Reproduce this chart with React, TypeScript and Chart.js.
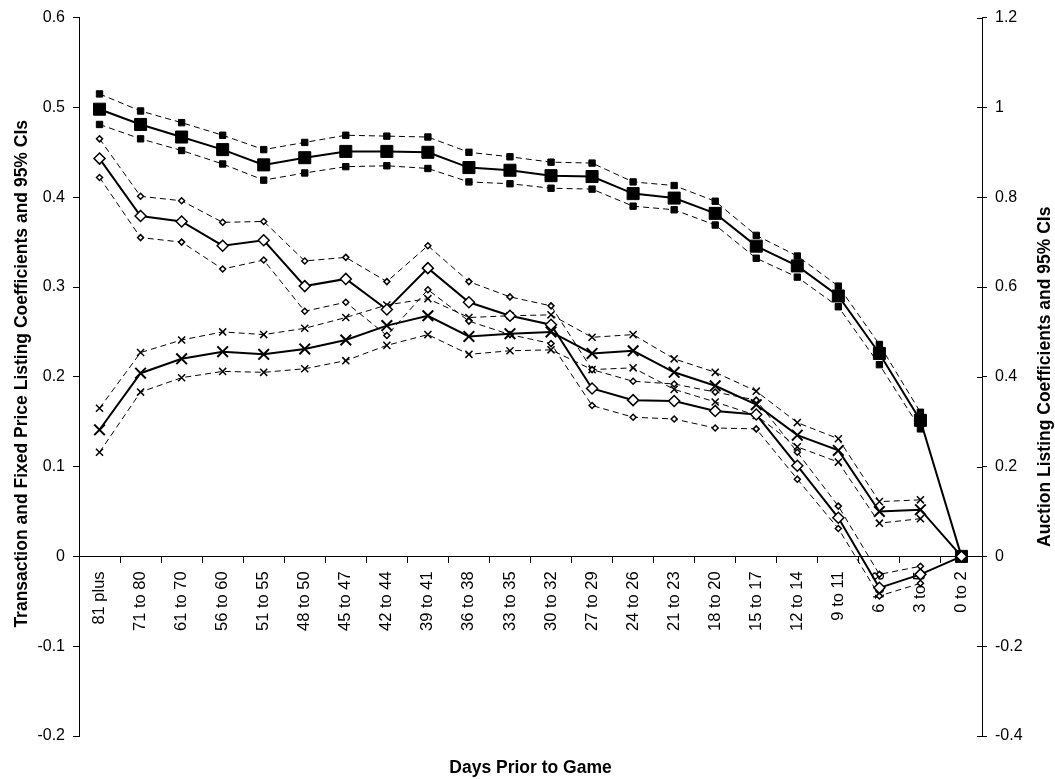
import React, { useEffect, useRef } from "react";
import { Chart, registerables } from "chart.js";

Chart.register(...registerables);

// Day buckets before the game, earliest first
const categories: string[] = [
  "81 plus", "71 to 80", "61 to 70", "56 to 60", "51 to 55", "48 to 50",
  "45 to 47", "42 to 44", "39 to 41", "36 to 38", "33 to 35", "30 to 32",
  "27 to 29", "24 to 26", "21 to 23", "18 to 20", "15 to 17", "12 to 14",
  "9 to 11", "6 to 8", "3 to 5", "0 to 2",
];

// Auction listing coefficients (right axis) with 95% CI bounds
const auctionCoef: (number | null)[] = [
  0.996, 0.962, 0.934, 0.906, 0.872, 0.888, 0.902, 0.902, 0.900, 0.866, 0.860,
  0.848, 0.846, 0.808, 0.798, 0.764, 0.691, 0.647, 0.580, 0.452, 0.303, 0,
];
const auctionUpper: (number | null)[] = [
  1.030, 0.992, 0.966, 0.938, 0.906, 0.922, 0.938, 0.936, 0.934, 0.900, 0.890,
  0.878, 0.876, 0.834, 0.826, 0.791, 0.715, 0.669, 0.602, 0.472, 0.321, null,
];
const auctionLower: (number | null)[] = [
  0.962, 0.930, 0.904, 0.874, 0.838, 0.854, 0.868, 0.870, 0.864, 0.834, 0.830,
  0.820, 0.818, 0.780, 0.772, 0.738, 0.664, 0.622, 0.556, 0.427, 0.284, null,
];

// Fixed price listing coefficients (left axis) with 95% CI bounds
const fixedCoef: (number | null)[] = [
  0.443, 0.379, 0.373, 0.346, 0.352, 0.301, 0.309, 0.275, 0.321, 0.283, 0.268,
  0.258, 0.187, 0.174, 0.173, 0.162, 0.158, 0.101, 0.043, -0.035, -0.020, 0,
];
const fixedUpper: (number | null)[] = [
  0.465, 0.401, 0.396, 0.372, 0.373, 0.329, 0.333, 0.306, 0.346, 0.306, 0.289,
  0.279, 0.208, 0.195, 0.192, 0.183, 0.174, 0.116, 0.056, -0.020, -0.011, null,
];
const fixedLower: (number | null)[] = [
  0.422, 0.355, 0.350, 0.320, 0.330, 0.273, 0.283, 0.246, 0.297, 0.262, 0.247,
  0.237, 0.168, 0.155, 0.153, 0.143, 0.142, 0.086, 0.031, -0.044, -0.030, null,
];

// Transaction coefficients (left axis) with 95% CI bounds
const transCoef: (number | null)[] = [
  0.141, 0.204, 0.220, 0.228, 0.225, 0.231, 0.241, 0.257, 0.268, 0.245, 0.248,
  0.250, 0.226, 0.229, 0.205, 0.190, 0.169, 0.135, 0.118, 0.050, 0.052, 0,
];
const transUpper: (number | null)[] = [
  0.165, 0.227, 0.241, 0.250, 0.247, 0.254, 0.266, 0.280, 0.287, 0.266, 0.268,
  0.269, 0.244, 0.247, 0.220, 0.205, 0.184, 0.149, 0.131, 0.061, 0.063, null,
];
const transLower: (number | null)[] = [
  0.116, 0.183, 0.199, 0.206, 0.205, 0.209, 0.218, 0.235, 0.247, 0.225, 0.229,
  0.230, 0.208, 0.210, 0.186, 0.172, 0.157, 0.122, 0.105, 0.037, 0.042, null,
];

const xTitle = "Days Prior to Game";
const leftTitle = "Transaction and Fixed Price Listing Coefficients and 95% CIs";
const rightTitle = "Auction Listing Coefficients and 95% CIs";

const FONT = '"Liberation Sans", Arial, Helvetica, sans-serif';

const fmt = (v: number | string) => String(Math.round(Number(v) * 10) / 10);

// Axis titles plus the inner half of the right-axis tick marks
const frameText = {
  id: "frameText",
  afterDraw(chart: any) {
    const { ctx, chartArea } = chart;
    const yR = chart.scales.y1;
    ctx.save();
    ctx.strokeStyle = "#000";
    ctx.lineWidth = 1;
    for (const t of yR.ticks) {
      const py = Math.round(yR.getPixelForValue(t.value)) + 0.5;
      ctx.beginPath();
      ctx.moveTo(chartArea.right - 5, py);
      ctx.lineTo(chartArea.right, py);
      ctx.stroke();
    }
    ctx.fillStyle = "#000";
    ctx.font = `bold 17.5px ${FONT}`;
    ctx.textAlign = "center";
    ctx.textBaseline = "alphabetic";
    const midY = (chartArea.top + chartArea.bottom) / 2;
    ctx.fillText(xTitle, (chartArea.left + chartArea.right) / 2, 773);
    ctx.save();
    ctx.translate(27, midY - 3);
    ctx.rotate(-Math.PI / 2);
    ctx.fillText(leftTitle, 0, 0);
    ctx.restore();
    ctx.save();
    ctx.translate(1050, midY);
    ctx.rotate(-Math.PI / 2);
    ctx.fillText(rightTitle, 0, 0);
    ctx.restore();
    ctx.restore();
  },
};

function mid(data: (number | null)[], axis: string, style: string, radius: number, fill: string, bw: number) {
  return {
    data,
    yAxisID: axis,
    borderColor: "#000",
    borderWidth: 2,
    pointStyle: style,
    pointRadius: radius,
    pointBackgroundColor: fill,
    pointBorderColor: "#000",
    pointBorderWidth: bw,
    tension: 0,
    fill: false,
  };
}

function band(data: (number | null)[], axis: string, style: string, radius: number, fill: string, bw: number) {
  return {
    data,
    yAxisID: axis,
    borderColor: "#000",
    borderWidth: 1,
    borderDash: [6, 4],
    pointStyle: style,
    pointRadius: radius,
    pointBackgroundColor: fill,
    pointBorderColor: "#000",
    pointBorderWidth: bw,
    tension: 0,
    fill: false,
    spanGaps: false,
  };
}

export default function App() {
  const ref = useRef<HTMLCanvasElement>(null);

  useEffect(() => {
    if (!ref.current) return;
    const tickFont = { family: FONT, size: 16 };
    const chart = new Chart(ref.current, {
      type: "line",
      data: {
        labels: categories,
        datasets: [
          mid(fixedCoef, "y", "rectRot", 5.5, "#fff", 1.5),
          mid(transCoef, "y", "crossRot", 7.5, "#000", 2),
          mid(auctionCoef, "y1", "rect", 8.5, "#000", 1),
          band(fixedUpper, "y", "rectRot", 3, "#fff", 1.5),
          band(fixedLower, "y", "rectRot", 3, "#fff", 1.5),
          band(transUpper, "y", "crossRot", 5, "#000", 1.5),
          band(transLower, "y", "crossRot", 5, "#000", 1.5),
          band(auctionUpper, "y1", "rect", 4.5, "#000", 1),
          band(auctionLower, "y1", "rect", 4.5, "#000", 1),
        ] as any,
      },
      options: {
        animation: false,
        responsive: false,
        devicePixelRatio: 1,
        events: [],
        layout: { padding: { top: 13, bottom: 43, left: 0, right: 0 } },
        plugins: {
          legend: { display: false },
          tooltip: { enabled: false },
          title: { display: false },
        },
        scales: {
          x: {
            type: "category",
            position: { y: 0 } as any,
            offset: true,
            grid: {
              offset: true,
              drawOnChartArea: false,
              drawTicks: true,
              tickLength: 6,
              color: "#000",
              tickColor: "#000",
              tickWidth: 1,
            },
            border: { display: true, color: "#000", width: 1 },
            ticks: {
              autoSkip: false,
              minRotation: 90,
              maxRotation: 90,
              padding: 9,
              color: "#000",
              font: { family: FONT, size: 16.5 },
            },
          },
          y: {
            type: "linear",
            position: "left",
            min: -0.2,
            max: 0.6,
            ticks: { stepSize: 0.1, callback: fmt, padding: 8, color: "#000", font: tickFont },
            grid: { drawOnChartArea: false, tickLength: 6, color: "#000" },
            border: { color: "#000", width: 1 },
            afterFit: (s: any) => {
              s.width = 79;
            },
          },
          y1: {
            type: "linear",
            position: "right",
            min: -0.4,
            max: 1.2,
            ticks: { stepSize: 0.2, callback: fmt, padding: 8, color: "#000", font: tickFont },
            grid: { drawOnChartArea: false, tickLength: 5, color: "#000" },
            border: { color: "#000", width: 1 },
            afterFit: (s: any) => {
              s.width = 73;
            },
          },
        },
      } as any,
      plugins: [frameText],
    });
    return () => chart.destroy();
  }, []);

  return (
    <div style={{ position: "absolute", left: 0, top: 0, width: 1055, height: 779, background: "#fff" }}>
      <canvas ref={ref} width={1055} height={779} style={{ display: "block" }} />
    </div>
  );
}
